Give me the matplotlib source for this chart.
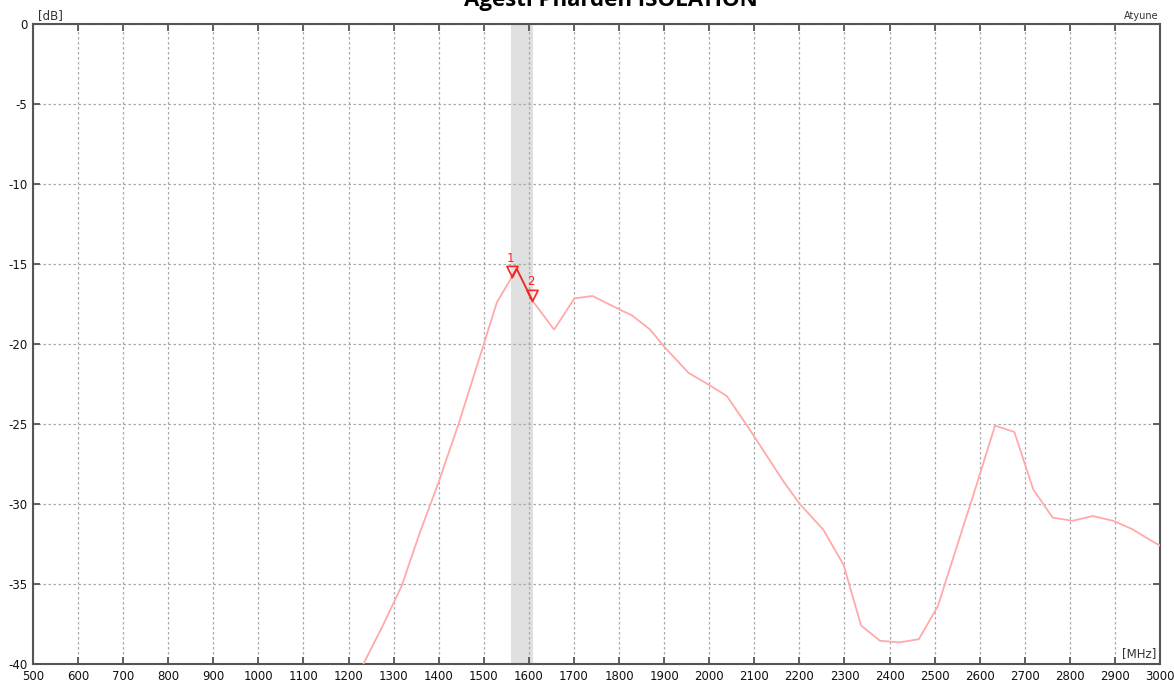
import matplotlib
matplotlib.use("Agg")
import matplotlib.pyplot as plt
import numpy as np
from matplotlib.path import Path

# Isolation trace (MHz, dB)
freq = [1190, 1233, 1276, 1318, 1358, 1399, 1444, 1499, 1529, 1573, 1608,
        1656, 1701, 1741, 1798, 1828, 1869, 1898, 1954, 2002, 2039, 2084,
        2128, 2165, 2201, 2253, 2298, 2337, 2379, 2422, 2465, 2507, 2550,
        2592, 2634, 2677, 2719, 2762, 2806, 2851, 2896, 2937, 2978, 3000]
iso_db = [-42.5, -40.0, -37.6, -35.1, -31.8, -28.7, -25.0, -20.1, -17.4, -15.3,
          -17.3, -19.1, -17.15, -17.0, -17.8, -18.2, -19.1, -20.1, -21.8, -22.6,
          -23.25, -25.1, -27.0, -28.6, -30.0, -31.6, -33.8, -37.6, -38.55, -38.65,
          -38.45, -36.4, -32.6, -28.9, -25.1, -25.5, -29.1, -30.85, -31.05, -30.75,
          -31.05, -31.55, -32.25, -32.6]

band = (1560, 1610)
marker_freq = [1562, 1608]
marker_names = ["1", "2"]

x_ticks = list(range(500, 3001, 100))
y_ticks = list(range(0, -41, -5))

fig = plt.figure(figsize=(11.74, 6.84), dpi=100)
ax = fig.add_axes([33 / 1174, 1 - 664 / 684, (1160 - 33) / 1174, (664 - 24) / 684])

spine_col = "#555555"
ax.axvspan(band[0], band[1], color="#e0e0e0", zorder=0, lw=0)

ax.plot(freq, iso_db, color="#ffaaaa", lw=1.3, zorder=3)

# darker segment between the two markers
f_arr = np.array(freq, dtype=float)
d_arr = np.array(iso_db, dtype=float)
inside = (f_arr > marker_freq[0]) & (f_arr < marker_freq[1])
seg_f = np.concatenate([[marker_freq[0]], f_arr[inside], [marker_freq[1]]])
seg_d = np.interp(seg_f, f_arr, d_arr)
ax.plot(seg_f, seg_d, color="#d83030", lw=1.3, zorder=4)

# markers: hollow down-triangles with tip on the trace
tri = Path([(-1, 2), (1, 2), (0, 0), (-1, 2)],
           [Path.MOVETO, Path.LINETO, Path.LINETO, Path.CLOSEPOLY])
for mf, name in zip(marker_freq, marker_names):
    my = np.interp(mf, f_arr, d_arr)
    ax.plot([mf], [my], marker=tri, markersize=16, markerfacecolor="none",
            markeredgecolor="#ff2020", markeredgewidth=1.2, zorder=5)
    ax.annotate(name, (mf, my), xytext=(-1, 9), textcoords="offset points",
                ha="center", va="bottom", color="#ff2020", fontsize=8.5, zorder=6)

ax.set_xlim(500, 3000)
ax.set_ylim(-40, 0)
ax.set_xticks(x_ticks)
ax.set_yticks(y_ticks)
ax.set_xticklabels([str(v) for v in x_ticks])
ax.set_yticklabels([str(v) for v in y_ticks])

ax.grid(True, color="#a8a8a8", linestyle=(0, (2, 2)), linewidth=0.9, zorder=1)
ax.set_axisbelow(True)
ax.tick_params(direction="in", length=5, width=1.3, color=spine_col,
               top=True, right=True, labelsize=8.5, pad=4, labelcolor="#111111")
for s in ax.spines.values():
    s.set_color(spine_col)
    s.set_linewidth(1.5)

ax.text(0.004, 1.003, "[dB]", transform=ax.transAxes, ha="left", va="bottom",
        fontsize=8.5, color="#333333")
ax.text(0.999, 1.004, "Atyune", transform=ax.transAxes, ha="right", va="bottom",
        fontsize=7, color="#333333")
ax.text(0.997, 0.006, "[MHz]", transform=ax.transAxes, ha="right", va="bottom",
        fontsize=8.5, color="#333333",
        bbox=dict(facecolor="white", edgecolor="none", pad=1))

# title sits partly above the top edge, as in the source screenshot
fig.text(611 / 1174, 1 - 6 / 684, "Agesti Pharden ISOLATION", ha="center",
         va="baseline", fontsize=16, fontweight="bold", family="Open Sans")

fig.savefig("out.png", dpi=100)
